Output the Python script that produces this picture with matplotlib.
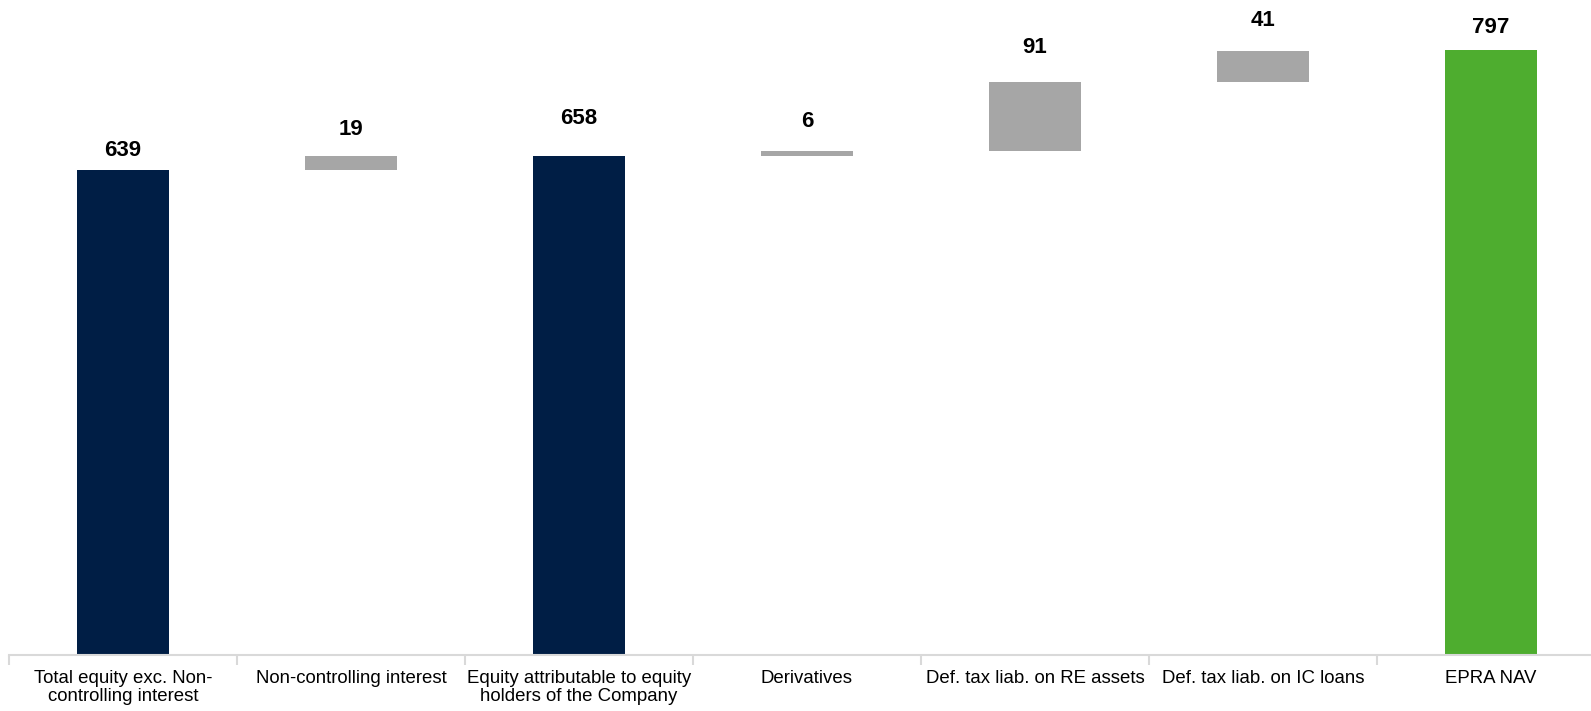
import matplotlib.pyplot as plt
import numpy as np

plt.rcParams['font.family'] = ['Liberation Sans', 'DejaVu Sans']

# EPRA NAV bridge
categories = ['Total equity exc. Non-\ncontrolling interest', 'Non-controlling interest',
              'Equity attributable to equity\nholders of the Company', 'Derivatives',
              'Def. tax liab. on RE assets', 'Def. tax liab. on IC loans', 'EPRA NAV']
values = [639, 19, 658, 6, 91, 41, 797]
kinds = ['total', 'delta', 'total', 'delta', 'delta', 'delta', 'final']

colors = {'total': '#001E45', 'delta': '#A6A6A6', 'final': '#4EAD2F'}
# value labels were placed by hand in the source, so gaps differ (points)
label_gap = [14, 19, 26.5, 21, 24.5, 22, 16.5]

fig = plt.figure(figsize=(15.91, 7.11), dpi=100)
# axis runs a little past the right edge of the figure, like the original
ax = fig.add_axes([9 / 1591, 56 / 711, 1596 / 1591, 655 / 711])

x = np.arange(len(categories))
running = 0
for i, (v, k) in enumerate(zip(values, kinds)):
    if k == 'delta':
        bottom = running
        running += v
    else:
        bottom = 0
        running = v
    ax.bar(x[i], v, bottom=bottom, width=0.4, color=colors[k], zorder=2)
    ax.annotate(str(v), (x[i], bottom + v), xytext=(0, label_gap[i]),
                textcoords='offset points', ha='center', va='center',
                fontsize=16, fontweight='bold', color='black')

ax.set_xlim(-0.5, len(categories) - 0.5)
ax.set_ylim(0, 863)

for side in ['top', 'right', 'left']:
    ax.spines[side].set_visible(False)
ax.spines['bottom'].set_color('#D9D9D9')
ax.spines['bottom'].set_linewidth(1.5)

ax.set_yticks([])
ax.set_xticks(x)
ax.set_xticklabels(categories, fontsize=13.4, linespacing=1.14)
ax.set_xticks(np.arange(-0.5, len(categories)), minor=True)
ax.tick_params(axis='x', which='major', length=0, pad=10.5)
ax.tick_params(axis='x', which='minor', length=7, color='#D9D9D9', width=1.5)

fig.savefig('out.png', dpi=100)
